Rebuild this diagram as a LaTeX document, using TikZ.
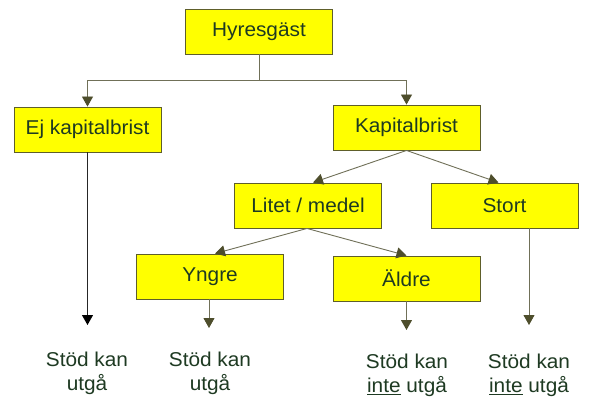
\documentclass[tikz,border=0pt]{standalone}
\usepackage{fontspec}
\setmainfont{Liberation Sans}[FakeStretch=1.04]
\usetikzlibrary{arrows.meta}
\definecolor{boxfill}{HTML}{FFFF00}
\definecolor{boxline}{HTML}{5E5E2A}
\definecolor{txt}{HTML}{1E3A22}
\definecolor{conn}{HTML}{707058}
\definecolor{tipc}{HTML}{4E4E2C}
\tikzset{
  box/.style={draw=boxline, fill=boxfill, line width=0.9pt, minimum width=147pt,
    minimum height=45pt, inner sep=0pt, text=txt, font=\fontsize{20}{24}\selectfont},
  lbl/.style={inner sep=0pt, align=center, anchor=north, text=txt, font=\fontsize{20}{24}\selectfont},
  plain/.style={draw=conn, line width=0.9pt},
  arr/.style={draw=conn, line width=0.9pt, -{Triangle[width=11pt,length=10pt,color=tipc]}},
  blackarr/.style={draw=black!85, line width=0.9pt, -{Triangle[width=11pt,length=10pt,color=black]}},
}
\begin{document}
\begin{tikzpicture}[x=1pt,y=-1pt]
\useasboundingbox (0,0) rectangle (591,406);
\fill[white] (0,0) rectangle (591,406);

\node[box] (hyr) at (259,31.5) {Hyresgäst};
\node[box] (ej)  at (87.5,129.5) {Ej kapitalbrist};
\node[box] (kap) at (406.5,127.5) {Kapitalbrist};
\node[box] (lit) at (308,205.5) {Litet / medel};
\node[box] (sto) at (504.5,205.5) {Stort};
\node[box] (yng) at (210,276.5) {Yngre};
\node[box] (ald) at (406.5,278.5) {Äldre};

\coordinate (j) at (259,80);
\draw[plain] (hyr.south) -- (j);
\draw[arr] (j) -| (ej.north);
\draw[arr] (j) -| (kap.north);

\draw[arr] (kap.south) -- ([xshift=5pt]lit.north);
\draw[arr] (kap.south) -- ([xshift=-6pt]sto.north);
\draw[arr] ([xshift=-1pt]lit.south) -- ([xshift=5pt]yng.north);
\draw[arr] ([xshift=-1pt]lit.south) -- (ald.north);

\coordinate (e1) at (87.5,325);
\coordinate (e2) at (209,328);
\coordinate (e3) at (406.5,330);
\coordinate (e4) at (529,325);
\draw[blackarr] (ej.south) -- (e1);
\draw[arr] (yng.south -| e2) -- (e2);
\draw[arr] (ald.south) -- (e3);
\draw[arr] (sto.south -| e4) -- (e4);

\node[lbl] (t1) at (87,352) {Stöd kan\\utgå};
\node[lbl] (t2) at (210,352) {Stöd kan\\utgå};
\node[lbl] (t3) at (407,354) {Stöd kan\\\underline{inte} utgå};
\node[lbl] (t4) at (529,354) {Stöd kan\\\underline{inte} utgå};
\end{tikzpicture}
\end{document}
